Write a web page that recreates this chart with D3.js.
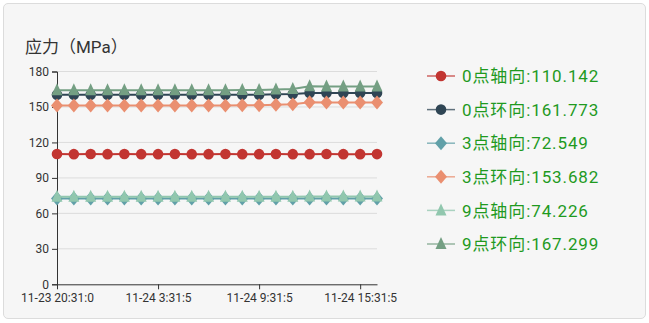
<!DOCTYPE html>
<html>
<head>
<meta charset="utf-8">
<script src="https://cdn.jsdelivr.net/npm/d3@7"></script>
<style>
  html, body { margin: 0; padding: 0; background: #fff; }
  body { width: 649px; height: 323px; overflow: hidden; }
  .card {
    position: absolute; left: 3px; top: 3px; width: 641px; height: 314px;
    background: #f6f6f6; border: 1px solid #dcdcdc; border-radius: 5px;
  }
  svg { position: absolute; left: 0; top: 0; font-family: Roboto, "Noto Sans CJK SC", sans-serif; }
</style>
</head>
<body>
<div class="card"></div>
<svg id="chart" width="649" height="323"></svg>
<script>
// categories (hourly samples)
const times = [
  "11-23 20:31:0", "11-23 22:31:5", "11-23 23:31:5", "11-24 0:31:5", "11-24 1:31:5",
  "11-24 2:31:5", "11-24 3:31:5", "11-24 4:31:5", "11-24 5:31:5", "11-24 6:31:5",
  "11-24 7:31:5", "11-24 8:31:5", "11-24 9:31:5", "11-24 10:31:5", "11-24 11:31:5",
  "11-24 12:31:5", "11-24 13:31:5", "11-24 14:31:5", "11-24 15:31:5", "11-24 16:31:5"
];
const yTicks = [0, 30, 60, 90, 120, 150, 180];

const names = ["0点轴向", "0点环向", "3点轴向", "3点环向", "9点轴向", "9点环向"];
const colors = ["#c23531", "#2f4554", "#61a0a8", "#ea8f70", "#91c7ae", "#749f83"];
const symbols = ["circle", "circle", "diamond", "diamond", "triangle", "triangle"];

const s0axial = [110.2, 110.1, 110.2, 110.1, 110.2, 110.1, 110.1, 110.2, 110.1, 110.1,
                 110.2, 110.1, 110.1, 110.2, 110.1, 110.1, 110.2, 110.1, 110.1, 110.142];
const s0hoop  = [160.3, 160.3, 160.3, 160.3, 160.3, 160.3, 160.3, 160.3, 160.3, 160.3,
                 160.3, 160.4, 160.4, 160.8, 161.0, 161.8, 161.8, 161.8, 161.8, 161.773];
const s3axial = [72.5, 72.5, 72.5, 72.5, 72.5, 72.5, 72.5, 72.5, 72.5, 72.5,
                 72.5, 72.5, 72.5, 72.5, 72.5, 72.5, 72.5, 72.5, 72.5, 72.549];
const s3hoop  = [151.3, 151.3, 151.3, 151.3, 151.3, 151.3, 151.3, 151.3, 151.3, 151.3,
                 151.3, 151.4, 151.4, 151.8, 152.4, 153.9, 153.7, 153.7, 153.7, 153.682];
const s9axial = [74.0, 74.0, 74.0, 74.0, 74.0, 74.0, 74.0, 74.0, 74.0, 74.0,
                 74.0, 74.0, 74.0, 74.1, 74.1, 74.2, 74.2, 74.2, 74.2, 74.226];
const s9hoop  = [164.2, 164.2, 164.2, 164.2, 164.2, 164.2, 164.2, 164.2, 164.2, 164.2,
                 164.2, 164.3, 164.3, 164.8, 165.3, 167.5, 167.3, 167.3, 167.3, 167.299];

const seriesData = [s0axial, s0hoop, s3axial, s3hoop, s9axial, s9hoop];

const svg = d3.select("#chart");
const margin = { left: 57, right: 272, top: 71.5, bottom: 38.7 };
const W = 649, H = 323;

const x = d3.scalePoint().domain(times).range([margin.left, W - margin.right]);
const y = d3.scaleLinear().domain([0, 180]).range([H - margin.bottom, margin.top]);

// title
svg.append("text")
  .attr("x", 25).attr("y", 53)
  .attr("font-size", 17).attr("fill", "#333")
  .text("应力（MPa）");

// grid
svg.append("g").selectAll("line")
  .data(yTicks.filter(d => d > 0))
  .join("line")
  .attr("x1", x.range()[0]).attr("x2", x.range()[1])
  .attr("y1", d => y(d)).attr("y2", d => y(d))
  .attr("stroke", "#dcdcdc").attr("stroke-width", 1);

// y axis
const yAxis = svg.append("g")
  .attr("transform", `translate(${margin.left},0)`)
  .call(d3.axisLeft(y).tickValues(yTicks).tickSize(5).tickPadding(3));
yAxis.select(".domain").attr("stroke", "#333");
yAxis.selectAll(".tick line").attr("stroke", "#333");
yAxis.selectAll("text").attr("font-size", 12).attr("fill", "#333").attr("font-family", "Roboto, sans-serif");

// x axis
const xLabels = times.filter((d, i) => i % 6 === 0);
const xAxis = svg.append("g")
  .attr("transform", `translate(0,${y(0)})`)
  .call(d3.axisBottom(x).tickValues(xLabels).tickSize(5).tickPadding(4).tickSizeOuter(0));
xAxis.select(".domain").attr("stroke", "#333");
xAxis.selectAll(".tick line").attr("stroke", "#333");
xAxis.selectAll("text").attr("font-size", 12).attr("fill", "#333").attr("font-family", "Roboto, sans-serif");

function marker(sel, kind, color) {
  if (kind === "diamond") {
    sel.append("path")
      .attr("d", "M0,-7L6,0L0,7L-6,0Z")
      .attr("fill", color);
  } else if (kind === "triangle") {
    sel.append("path")
      .attr("d", "M0,-7L5.5,5L-5.5,5Z")
      .attr("fill", color);
  } else {
    sel.append("circle").attr("r", 5.3).attr("fill", color);
  }
}

const line = d3.line().x((d, i) => x(times[i])).y(d => y(d));

seriesData.forEach((vals, k) => {
  const g = svg.append("g");
  g.append("path")
    .datum(vals)
    .attr("d", line)
    .attr("fill", "none")
    .attr("stroke", colors[k])
    .attr("stroke-width", 2);
  vals.forEach((v, i) => {
    const m = g.append("g").attr("transform", `translate(${x(times[i])},${y(v)})`);
    marker(m, symbols[k], colors[k]);
  });
});

// legend
const leg = svg.append("g");
names.forEach((n, k) => {
  const vals = seriesData[k];
  const cy = 76 + k * 33.6;
  const row = leg.append("g").attr("transform", `translate(441,${cy})`);
  row.append("line")
    .attr("x1", -14).attr("x2", 14)
    .attr("stroke", colors[k]).attr("stroke-width", 1.5).attr("opacity", 0.75);
  marker(row, symbols[k], colors[k]);
  row.append("text")
    .attr("x", 21).attr("y", 0).attr("dy", "0.36em")
    .attr("font-size", 17).attr("letter-spacing", 0.9).attr("fill", "#1f9a1f")
    .text(`${n}:${vals[vals.length - 1]}`);
});
</script>
</body>
</html>
